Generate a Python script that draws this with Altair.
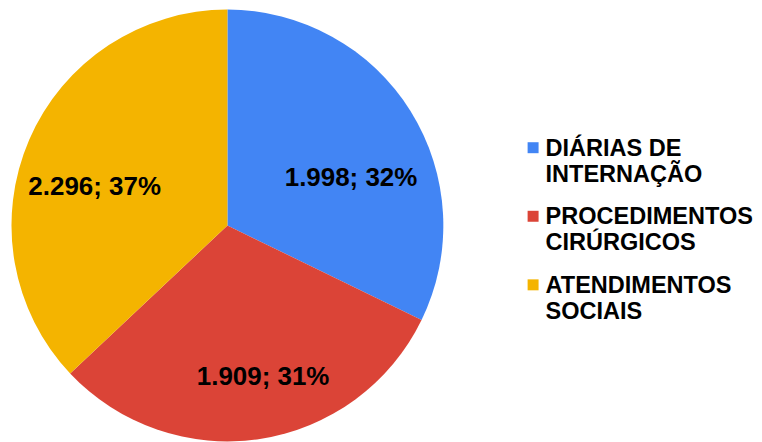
import altair as alt
import pandas as pd

categories = ["DIÁRIAS DE\nINTERNAÇÃO", "PROCEDIMENTOS\nCIRÚRGICOS", "ATENDIMENTOS\nSOCIAIS"]
values = [1998, 1909, 2296]
colors = ["#4285F4", "#DB4437", "#F4B400"]
total = sum(values)

df = pd.DataFrame({"cat": categories, "value": values, "idx": list(range(len(values)))})

FONT = "Liberation Sans"
color_scale = alt.Scale(domain=categories, range=colors)
theta_scale = alt.Scale(domain=[0, total])

base = alt.Chart(df).transform_window(
    cum="sum(value)", sort=[alt.SortField("idx")]
).transform_calculate(
    start="datum.cum - datum.value",
    mid="datum.cum - datum.value / 2",
    label=f"replace(format(datum.value, ','), ',', '.') + '; ' + format(datum.value / {total}, '.0%')",
)

arcs = base.mark_arc(radius=216.5).encode(
    theta=alt.Theta("start:Q", scale=theta_scale),
    theta2="cum:Q",
    color=alt.Color("cat:N", scale=color_scale, legend=None),
)

offsets = [(1, 29), (14, 9), (0, 19)]
texts = []
for i, (dx, dy) in enumerate(offsets):
    texts.append(
        base.transform_filter(f"datum.idx == {i}").mark_text(
            radius=145, dx=dx, dy=dy, font=FONT, fontSize=26, fontWeight="bold",
            color="#000000", align="center", baseline="middle",
        ).encode(
            theta=alt.Theta("mid:Q", scale=theta_scale),
            text="label:N",
        )
    )

pie = alt.layer(arcs, *texts).properties(width=440, height=435)

leg_y = alt.Y("cat:N", scale=alt.Scale(type="point", domain=categories, range=[139.5, 277], padding=0), axis=None)
leg_base = alt.Chart(df)
squares = leg_base.mark_square(size=121, opacity=1).encode(
    x=alt.value(86.5),
    y=leg_y,
    color=alt.Color("cat:N", scale=color_scale, legend=None),
)
leg_text = leg_base.mark_text(
    font=FONT, fontSize=23.6, fontWeight="bold", color="#000000", align="left",
    baseline="alphabetic", dy=8, lineBreak="\n", lineHeight=26,
).encode(
    x=alt.value(99),
    y=leg_y,
    text="cat:N",
)
legend = alt.layer(squares, leg_text).properties(width=306, height=435)

chart = alt.hconcat(pie, legend, spacing=0).properties(
    padding=0, background="#ffffff"
).configure_view(stroke=None).configure_concat(spacing=0)

chart.save("out.html", embed_options={"renderer": "svg", "actions": False})
